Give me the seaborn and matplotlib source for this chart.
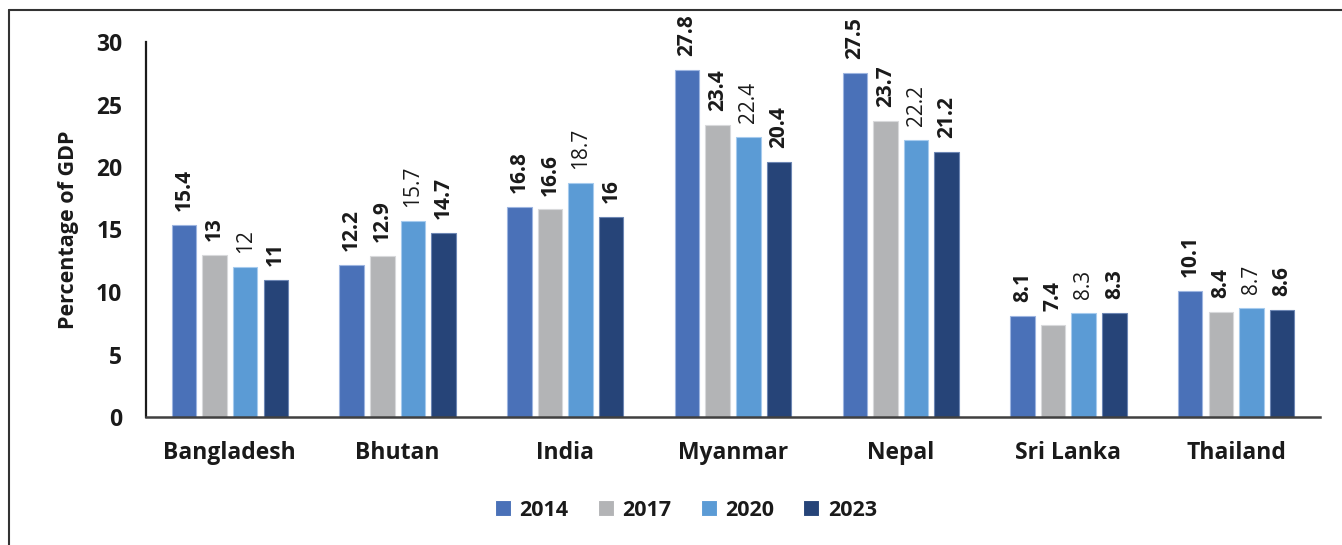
import matplotlib
matplotlib.use("Agg")
import matplotlib.pyplot as plt
from matplotlib.lines import Line2D
import pandas as pd
import seaborn as sns

countries = ["Bangladesh", "Bhutan", "India", "Myanmar", "Nepal", "Sri Lanka", "Thailand"]
years = ["2014", "2017", "2020", "2023"]
v2014 = [15.4, 12.2, 16.8, 27.8, 27.5, 8.1, 10.1]
v2017 = [13, 12.9, 16.6, 23.4, 23.7, 7.4, 8.4]
v2020 = [12, 15.7, 18.7, 22.4, 22.2, 8.3, 8.7]
v2023 = [11, 14.7, 16, 20.4, 21.2, 8.3, 8.6]
y_ticks = [0, 5, 10, 15, 20, 25, 30]

colors = ["#4a71b8", "#b3b4b6", "#5b9bd5", "#264478"]
edge_colors = ["#9db5e0", "#d8d9db", "#a6cbee", "#6d86b3"]
label_weights = ["bold", "bold", "normal", "bold"]

series = [v2014, v2017, v2020, v2023]
df = pd.DataFrame({
    "country": [c for _ in years for c in countries],
    "year": [y for y in years for _ in countries],
    "value": [v for s in series for v in s],
})

sns.set_style("white")
plt.rcParams["font.family"] = ["Open Sans", "DejaVu Sans"]

fig = plt.figure(figsize=(13.42, 5.45), dpi=100)
ax = fig.add_axes([146 / 1342, 1 - 417 / 545, (1320 - 146) / 1342, (417 - 42) / 545])

sns.barplot(data=df, x="country", y="value", hue="year", order=countries,
            hue_order=years, palette=colors, saturation=1, width=0.73, gap=0.2,
            linewidth=0.8, ax=ax, legend=True)

for i, cont in enumerate(ax.containers):
    for bar in cont:
        bar.set_edgecolor(edge_colors[i])
    ax.bar_label(cont, labels=[f"{v:g}" for v in series[i]], rotation=90,
                 padding=10, fontsize=15, fontweight=label_weights[i],
                 color="#1a1a1a", clip_on=False)

ax.set_ylim(0, 30)
ax.set_yticks(y_ticks)
ax.set_xlim(-0.5, len(countries) - 0.5)
ax.set_xlabel("")
ax.set_ylabel("Percentage of GDP", fontsize=15.5, fontweight="bold", color="#1a1a1a", labelpad=12)
ax.tick_params(axis="y", length=0, pad=17, labelsize=16.5, labelcolor="#1a1a1a")
ax.tick_params(axis="x", length=0, pad=17, labelsize=16.5, labelcolor="#1a1a1a")
for lab in ax.get_xticklabels() + ax.get_yticklabels():
    lab.set_fontweight("bold")

for side in ["top", "right"]:
    ax.spines[side].set_visible(False)
ax.spines["left"].set_color("#1a1a1a")
ax.spines["left"].set_linewidth(1.6)
ax.spines["bottom"].set_color("#404040")
ax.spines["bottom"].set_linewidth(1.8)
ax.grid(False)

handles, labels = ax.get_legend_handles_labels()
ax.legend_.remove()
leg = fig.legend(handles, labels, loc="center", bbox_to_anchor=(686 / 1342, 1 - 510 / 545),
                 ncol=4, frameon=False, fontsize=15.5, handlelength=0.75, handleheight=0.75,
                 handletextpad=0.4, columnspacing=1.35)
for t in leg.get_texts():
    t.set_fontweight("bold")
    t.set_color("#1a1a1a")

# outer frame: left and top edges
fig.add_artist(Line2D([8.5 / 1342, 8.5 / 1342], [0, 1 - 10 / 545], color="#333333", lw=1.5,
                      transform=fig.transFigure))
fig.add_artist(Line2D([8.5 / 1342, 1], [1 - 10 / 545, 1 - 10 / 545], color="#333333", lw=1.5,
                      transform=fig.transFigure))

fig.savefig("out.png", dpi=100)
